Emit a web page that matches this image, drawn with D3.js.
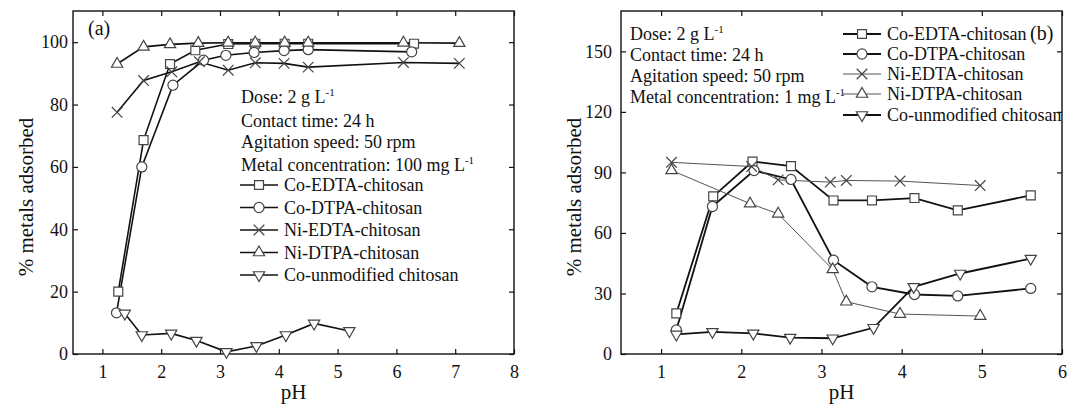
<!DOCTYPE html>
<html>
<head>
<meta charset="utf-8">
<script src="https://cdn.jsdelivr.net/npm/d3@7"></script>
<style>
  body { margin: 0; background: #fff; }
  text { font-family: "Liberation Serif", "Times New Roman", serif; fill: #111; }
</style>
</head>
<body>
<div id="chart"></div>
<script>
const width = 1067
const height = 410

// Series names (same order in both panels)
const seriesNames = ["Co-EDTA-chitosan", "Co-DTPA-chitosan", "Ni-EDTA-chitosan", "Ni-DTPA-chitosan", "Co-unmodified chitosan"]
const shapes = ["square", "circle", "cross", "triangle", "triangleDown"]

// Panel (a): [pH, % adsorbed], metal concentration 100 mg/L
const aCoEdta = [[1.27, 20], [1.7, 68.6], [2.15, 93], [2.58, 97.4], [3.14, 99.4], [3.6, 99.5], [4.1, 99.5], [4.5, 99.5], [6.3, 99.5]]
const aCoDtpa = [[1.24, 13.2], [1.67, 60], [2.2, 86.2], [2.72, 94.2], [3.1, 95.8], [3.58, 96.7], [4.09, 97.3], [4.5, 97.6], [6.26, 96.9]]
const aNiEdta = [[1.25, 77.5], [1.7, 87.7], [2.18, 90.5], [2.65, 93.7], [3.14, 91], [3.6, 93.4], [4.09, 93.2], [4.5, 92], [6.12, 93.5], [7.07, 93.2]]
const aNiDtpa = [[1.25, 93], [1.7, 98.5], [2.15, 99.3], [2.63, 99.7], [3.14, 99.8], [3.6, 99.8], [4.1, 99.8], [4.5, 99.8], [6.12, 99.8], [7.07, 99.7]]
const aCoUnmod = [[1.38, 13], [1.67, 6.1], [2.17, 6.6], [2.6, 4.3], [3.11, 0.7], [3.62, 2.6], [4.12, 6.1], [4.6, 9.8], [5.2, 7.4]]

// Panel (b): [pH, % adsorbed], metal concentration 1 mg/L
const bCoEdta = [[1.19, 20.1], [1.65, 78.1], [2.14, 95.4], [2.62, 93.1], [3.15, 76.1], [3.63, 76.1], [4.16, 77.3], [4.7, 71.2], [5.61, 78.6]]
const bCoDtpa = [[1.19, 11.9], [1.64, 73.1], [2.16, 90.9], [2.62, 86.5], [3.15, 46.5], [3.63, 33.3], [4.16, 29.5], [4.7, 28.8], [5.61, 32.5]]
const bNiEdta = [[1.13, 95], [2.13, 92.9], [2.46, 86.3], [3.11, 85.2], [3.31, 86], [3.98, 85.7], [4.98, 83.5]]
const bNiDtpa = [[1.13, 91], [2.11, 74.5], [2.46, 69.5], [3.14, 41.9], [3.31, 25.9], [3.98, 19.8], [4.98, 18.8]]
const bCoUnmod = [[1.19, 9.7], [1.64, 11], [2.15, 10.2], [2.61, 8.1], [3.14, 7.8], [3.65, 13], [4.15, 33.3], [4.73, 39.9], [5.61, 47.3]]

// Ticks
const aXTicks = [1, 2, 3, 4, 5, 6, 7, 8]
const aYTicks = [0, 20, 40, 60, 80, 100]
const bXTicks = [1, 2, 3, 4, 5, 6]
const bYTicks = [0, 30, 60, 90, 120, 150]

const svg = d3.select("#chart").append("svg")
  .attr("width", width)
  .attr("height", height)

// marker paths
const markerPath = {
  square: d3.symbol(d3.symbolSquare, 80)(),
  circle: d3.symbol(d3.symbolCircle, 80)(),
  cross: d3.symbol(d3.symbolTimes, 75)(),
  triangle: d3.symbol(d3.symbolTriangle, 55)(),
  triangleDown: d3.symbol(d3.symbolTriangle, 55)(),
}

function drawMarker(g, shape, px, py) {
  g.append("path")
    .attr("d", markerPath[shape])
    .attr("transform", `translate(${px},${py})` + (shape == "triangleDown" ? " rotate(180)" : ""))
    .attr("fill", shape == "cross" ? "none" : "#fff")
    .attr("stroke", "#444")
    .attr("stroke-width", 1.2)
}

function supText(g, x, y, main, sup) {
  const t = g.append("text").attr("x", x).attr("y", y).attr("font-size", 18)
  t.append("tspan").text(main)
  t.append("tspan").attr("dy", -7).attr("font-size", 11).text(sup)
  return t
}

function panel(cfg) {
  const x = d3.scaleLinear().domain(cfg.xDomain).range([cfg.left, cfg.right])
  const y = d3.scaleLinear().domain(cfg.yDomain).range([cfg.bottom, cfg.top])
  const g = svg.append("g")
  const fmt = d3.format("d")

  // axes, ticks pointing inwards
  g.append("g").attr("transform", `translate(0,${cfg.bottom})`)
    .call(d3.axisBottom(x).tickValues(cfg.xTicks).tickFormat(fmt).tickSizeInner(-5).tickSizeOuter(0).tickPadding(11))
  g.append("g").attr("transform", `translate(0,${cfg.top})`)
    .call(d3.axisTop(x).tickValues(cfg.xTicks).tickSizeInner(-5).tickSizeOuter(0).tickFormat(""))
  g.append("g").attr("transform", `translate(${cfg.left},0)`)
    .call(d3.axisLeft(y).tickValues(cfg.yTicks).tickFormat(fmt).tickSizeInner(-5).tickSizeOuter(0).tickPadding(cfg.yPad))
  g.append("g").attr("transform", `translate(${cfg.right},0)`)
    .call(d3.axisRight(y).tickValues(cfg.yTicks).tickSizeInner(-5).tickSizeOuter(0).tickFormat(""))
  g.selectAll(".domain").remove()
  g.selectAll(".tick line").attr("stroke", "#111").attr("stroke-width", 1.2)
  g.selectAll(".tick text").attr("font-size", 18).attr("font-family", "Liberation Serif").attr("fill", "#111")

  g.append("rect")
    .attr("x", cfg.left).attr("y", cfg.top)
    .attr("width", cfg.right - cfg.left).attr("height", cfg.bottom - cfg.top)
    .attr("fill", "none").attr("stroke", "#111").attr("stroke-width", 1.4)

  // axis titles
  g.append("text")
    .attr("transform", `translate(${cfg.left - 40},197) rotate(-90)`)
    .attr("text-anchor", "middle").attr("font-size", 21)
    .text("% metals adsorbed")
  g.append("text")
    .attr("x", (cfg.left + cfg.right) / 2).attr("y", 399)
    .attr("text-anchor", "middle").attr("font-size", 21)
    .text("pH")

  // series
  const line = d3.line().x(d => x(d[0])).y(d => y(d[1]))
  cfg.series.forEach((data, i) => {
    g.append("path").datum(data)
      .attr("d", line)
      .attr("fill", "none")
      .attr("stroke", cfg.lineColor[i])
      .attr("stroke-width", cfg.lineWidth[i])
  })
  cfg.series.forEach((data, i) => {
    data.forEach(d => drawMarker(g, shapes[i], x(d[0]), y(d[1])))
  })

  // notes
  supText(g, cfg.noteX, cfg.noteY[0], "Dose: 2 g L", "-1")
  g.append("text").attr("x", cfg.noteX).attr("y", cfg.noteY[1]).attr("font-size", 18).text("Contact time: 24 h")
  g.append("text").attr("x", cfg.noteX).attr("y", cfg.noteY[2]).attr("font-size", 18).text("Agitation speed: 50 rpm")
  supText(g, cfg.noteX, cfg.noteY[3], cfg.concText, "-1")

  // legend
  seriesNames.forEach((name, i) => {
    const ly = cfg.legendY[i]
    g.append("line")
      .attr("x1", cfg.legendX).attr("x2", cfg.legendX + 38)
      .attr("y1", ly - 6).attr("y2", ly - 6)
      .attr("stroke", cfg.lineColor[i]).attr("stroke-width", cfg.lineWidth[i])
    drawMarker(g, shapes[i], cfg.legendX + 19, ly - 6)
    g.append("text").attr("x", cfg.legendX + 44).attr("y", ly).attr("font-size", 18).text(name)
  })

  g.append("text").attr("x", cfg.tagX).attr("y", cfg.tagY).attr("font-size", 20).text(cfg.tag)
}

panel({
  left: 73, right: 514, top: 11, bottom: 354,
  xDomain: [0.5, 8], yDomain: [0, 110],
  xTicks: aXTicks, yTicks: aYTicks, yPad: 5,
  series: [aCoEdta, aCoDtpa, aNiEdta, aNiDtpa, aCoUnmod],
  lineColor: ["#111", "#111", "#111", "#111", "#111"],
  lineWidth: [1.6, 1.6, 1.6, 1.6, 1.6],
  noteX: 241, noteY: [103, 127, 148, 171],
  concText: "Metal concentration: 100 mg L",
  legendX: 240, legendY: [191, 213.5, 236, 258.5, 281],
  tag: "(a)", tagX: 88, tagY: 35,
})

panel({
  left: 621, right: 1062, top: 11, bottom: 354,
  xDomain: [0.5, 6], yDomain: [0, 170],
  xTicks: bXTicks, yTicks: bYTicks, yPad: 9,
  series: [bCoEdta, bCoDtpa, bNiEdta, bNiDtpa, bCoUnmod],
  lineColor: ["#111", "#111", "#555", "#555", "#111"],
  lineWidth: [1.8, 1.8, 1, 1, 1.8],
  noteX: 630, noteY: [40, 61, 82, 103],
  concText: "Metal concentration: 1 mg L",
  legendX: 843, legendY: [40, 60, 80, 100, 121],
  tag: "(b)", tagX: 1030, tagY: 40,
})
</script>
</body>
</html>
